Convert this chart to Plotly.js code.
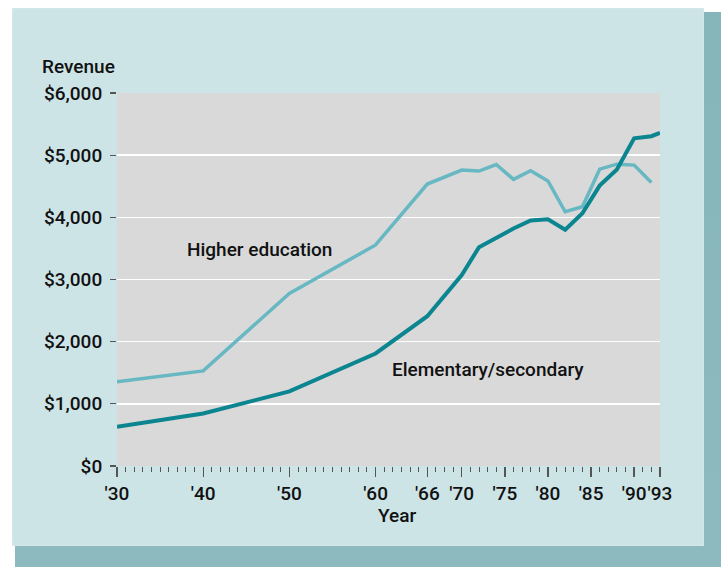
<!DOCTYPE html>
<html>
<head>
<meta charset="utf-8">
<script src="https://cdn.plot.ly/plotly-3.0.1.min.js"></script>
<style>
  html, body { margin: 0; padding: 0; background: #ffffff; }
  #wrap { position: relative; width: 722px; height: 571px; overflow: hidden; }
  #shadow { position: absolute; left: 15px; top: 12px; width: 706px; height: 555px;
            background: linear-gradient(180deg, #86b5ba 0%, #8dbabe 100%); }
  #panel { position: absolute; left: 12px; top: 8px; width: 692px; height: 538px;
           background: #cde4e7; box-shadow: inset 0 0 3px #dbeef0; }
  #chart { position: absolute; left: 0; top: 0; width: 722px; height: 571px; }
</style>
</head>
<body>
<div id="wrap">
  <div id="shadow"></div>
  <div id="panel"></div>
  <div id="chart"></div>
</div>
<script>
// Data (revenue per student, dollars)
const elemYears = [1930, 1940, 1950, 1960, 1966, 1970, 1972, 1974, 1976, 1978, 1980, 1982, 1984, 1986, 1988, 1990, 1992, 1993];
const elemRevenue = [630, 845, 1200, 1810, 2410, 3070, 3520, 3670, 3820, 3950, 3970, 3800, 4065, 4510, 4770, 5270, 5305, 5360];

const higherYears = [1930, 1940, 1950, 1960, 1966, 1970, 1972, 1974, 1976, 1978, 1980, 1982, 1984, 1986, 1988, 1990, 1992];
const higherRevenue = [1355, 1530, 2775, 3555, 4535, 4760, 4745, 4850, 4610, 4750, 4585, 4090, 4170, 4775, 4855, 4840, 4560];

const xTickVals = [1930, 1940, 1950, 1960, 1966, 1970, 1975, 1980, 1985, 1990, 1993];
const xTickText = ["'30", "'40", "'50", "'60", "'66", "'70", "'75", "'80", "'85", "'90", "'93"];

const yTickVals = [0, 1000, 2000, 3000, 4000, 5000, 6000];
const yTickText = ["$0", "$1,000", "$2,000", "$3,000", "$4,000", "$5,000", "$6,000"];

const FONT = "Roboto, Liberation Sans, Arial, sans-serif";
const FSIZE = 19;
const FW = 500;
const W = 722, H = 571;
const L = 117, R = 660, T = 93, B = 466;
function px(x) { return (x - L) / (R - L); }
function py(y) { return (B - y) / (B - T); }
const txtFont = { family: FONT, size: FSIZE, color: '#111111', weight: FW };

const traces = [
  {
    x: higherYears, y: higherRevenue, type: 'scatter', mode: 'lines',
    name: 'Higher education',
    line: { color: '#67b8c2', width: 3.5 },
    hoverinfo: 'skip'
  },
  {
    x: elemYears, y: elemRevenue, type: 'scatter', mode: 'lines',
    name: 'Elementary/secondary',
    line: { color: '#0b8590', width: 4 },
    hoverinfo: 'skip'
  }
];

const layout = {
  width: W, height: H,
  margin: { l: L, r: W - R, t: T, b: H - B, pad: 0 },
  paper_bgcolor: 'rgba(0,0,0,0)',
  plot_bgcolor: '#d9d9d9',
  showlegend: false,
  font: txtFont,
  xaxis: {
    range: [1930, 1993],
    tickmode: 'array', tickvals: xTickVals, ticktext: xTickText,
    tickangle: 0,
    ticks: 'outside', ticklen: 10, tickwidth: 1.3, tickcolor: '#555555',
    ticklabelstandoff: 0,
    showgrid: false, zeroline: false, showline: false,
    tickfont: txtFont,
    minor: { dtick: 1, tick0: 1930, ticks: 'outside', ticklen: 5, tickwidth: 1, tickcolor: '#555555', showgrid: false },
    fixedrange: true
  },
  yaxis: {
    range: [0, 6000],
    tickmode: 'array', tickvals: yTickVals, ticktext: yTickText,
    ticks: 'outside', ticklen: 6, tickwidth: 1.3, tickcolor: '#555555',
    ticklabelstandoff: 4,
    showgrid: true, gridcolor: '#ffffff', gridwidth: 1.5,
    zeroline: false, showline: false,
    tickfont: txtFont,
    fixedrange: true
  },
  annotations: [
    { text: 'Revenue', xref: 'paper', yref: 'paper', x: px(40), y: py(67),
      xanchor: 'left', yanchor: 'middle', showarrow: false, font: txtFont },
    { text: 'Year', xref: 'paper', yref: 'paper', x: px(397), y: py(515),
      xanchor: 'center', yanchor: 'middle', showarrow: false, font: txtFont },
    { text: 'Higher education', xref: 'paper', yref: 'paper', x: px(259), y: py(250),
      xanchor: 'center', yanchor: 'middle', showarrow: false, font: txtFont },
    { text: 'Elementary/secondary', xref: 'paper', yref: 'paper', x: px(488), y: py(369),
      xanchor: 'center', yanchor: 'middle', showarrow: false, font: txtFont }
  ]
};

Plotly.newPlot('chart', traces, layout, { displayModeBar: false, staticPlot: true });
</script>
</body>
</html>
